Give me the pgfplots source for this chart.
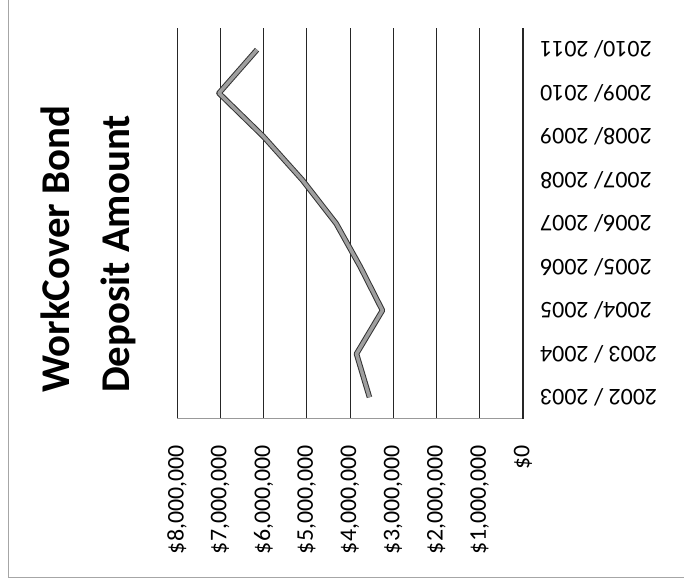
\documentclass[border=0pt]{standalone}
\usepackage{fontspec}
\setmainfont{Carlito}
\usepackage{pgfplots}
\pgfplotsset{compat=1.18}

\begin{document}
\begin{tikzpicture}
    % page frame, 1bp = 1px of the reference
    \path[use as bounding box] (0,0) rectangle (684bp,585bp);
    \draw[gray!70, line width=0.8bp] (8bp,585bp) -- (8bp,8bp) -- (684bp,8bp);

    \begin{axis}[
        at={(177bp,166bp)},
        anchor=south west,
        scale only axis,
        width=346bp,
        height=391bp,
        x dir=reverse,
        xmin=0, xmax=8000000,
        ymin=-0.5, ymax=8.5,
        scaled x ticks=false,
        xtick={0,1000000,2000000,3000000,4000000,5000000,6000000,7000000,8000000},
        xticklabels={\$0,{\$1,000,000},{\$2,000,000},{\$3,000,000},{\$4,000,000},
                     {\$5,000,000},{\$6,000,000},{\$7,000,000},{\$8,000,000}},
        ytick={0,...,8},
        yticklabels={2002 / 2003, 2003 / 2004, 2004/ 2005, 2005/ 2006, 2006/ 2007,
                     2007/ 2008, 2008/ 2009, 2009/ 2010, 2010/ 2011},
        axis x line*=bottom,
        axis y line*=right,
        x axis line style={gray!80, line width=1bp, -},
        y axis line style={black!85, line width=1bp, -},
        major tick length=0pt,
        xmajorgrids=true,
        major grid style={black!85, line width=0.9bp},
        tick label style={font=\fontsize{24}{28}\selectfont, inner sep=0pt},
        xticklabel style={rotate=90, anchor=east},
        xticklabel shift=26bp,
        yticklabel style={rotate=180, anchor=east},
        yticklabel shift=17bp,
        clip=false
    ]
        \addplot[gray!75, line width=3.5bp, line join=round,
                 preaction={draw=black!80, line width=5.5bp}] coordinates {
            (3550000,0) (3850000,1) (3250000,2) (3760000,3) (4320000,4)
            (5100000,5) (6000000,6) (7030000,7) (6150000,8)
        };
    \end{axis}

    \node[rotate=90, anchor=south west, inner sep=0pt, align=left,
          font=\fontsize{41}{60}\selectfont\bfseries] at (136bp,192bp)
        {WorkCover Bond\\Deposit Amount};
\end{tikzpicture}
\end{document}
